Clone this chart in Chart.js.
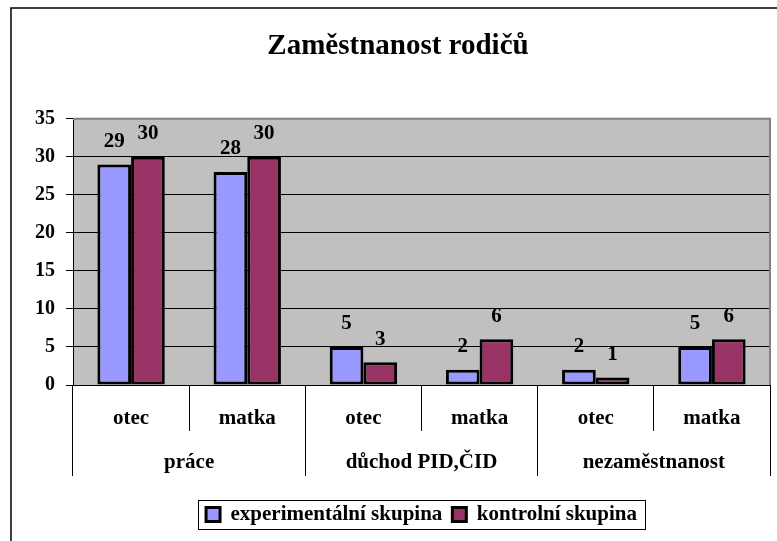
<!DOCTYPE html>
<html lang="cs">
<head>
    <meta charset="UTF-8">
    <title>Zaměstnanost rodičů</title>
    <script src="https://cdn.jsdelivr.net/npm/chart.js"></script>
    <style>
        body { margin: 0; background: #fff; }
    </style>
</head>
<body>
    <canvas id="myChart" width="777" height="541"></canvas>
    <script>
        const categories = ['otec', 'matka', 'otec', 'matka', 'otec', 'matka'];
        const groups = ['práce', 'důchod PID,ČID', 'nezaměstnanost'];
        const experimental = [29, 28, 5, 2, 2, 5];
        const control = [30, 30, 3, 6, 1, 6];
        const yMax = 35;
        const yStep = 5;

        Chart.defaults.font.family = "'Liberation Serif', 'Times New Roman', serif";
        Chart.defaults.font.weight = 'bold';
        Chart.defaults.font.size = 20;
        Chart.defaults.color = '#000';

        // grey plot area, frame lines, value labels, legend box
        const decor = {
            id: 'decor',
            beforeDraw(chart) {
                const ctx = chart.ctx;
                const a = chart.chartArea;
                ctx.save();
                ctx.fillStyle = '#fff';
                ctx.fillRect(0, 0, chart.width, chart.height);
                ctx.fillStyle = '#C0C0C0';
                ctx.fillRect(a.left, a.top, a.right - a.left, a.bottom - a.top);
                ctx.restore();
            },
            afterDatasetsDraw(chart) {
                const ctx = chart.ctx;
                const a = chart.chartArea;
                ctx.save();
                ctx.strokeStyle = '#808080';
                ctx.lineWidth = 2;
                ctx.beginPath();
                ctx.moveTo(a.left, a.top);
                ctx.lineTo(a.right, a.top);
                ctx.lineTo(a.right, a.bottom);
                ctx.stroke();

                ctx.fillStyle = '#000';
                ctx.font = "bold 21px 'Liberation Serif', serif";
                ctx.textAlign = 'center';
                ctx.textBaseline = 'middle';
                chart.data.datasets.forEach((ds, i) => {
                    chart.getDatasetMeta(i).data.forEach((bar, j) => {
                        ctx.fillText(ds.data[j], bar.x, bar.y - 23);
                    });
                });
                ctx.restore();
            },
            afterDraw(chart) {
                const ctx = chart.ctx;
                ctx.save();
                ctx.strokeStyle = '#000';
                ctx.lineWidth = 1.5;
                ctx.beginPath();
                ctx.moveTo(11, chart.height + 5);
                ctx.lineTo(11, 8);
                ctx.lineTo(chart.width + 5, 8);
                ctx.stroke();

                const boxes = chart.legend.legendHitBoxes;
                if (boxes && boxes.length) {
                    const l = Math.min(...boxes.map(b => b.left)) - 8;
                    const r = Math.max(...boxes.map(b => b.left + b.width)) + 8;
                    const t = Math.min(...boxes.map(b => b.top)) - 4;
                    const btm = Math.max(...boxes.map(b => b.top + b.height)) + 4;
                    ctx.lineWidth = 1;
                    ctx.strokeRect(Math.round(l) + 0.5, Math.round(t) + 0.5, Math.round(r - l), Math.round(btm - t));
                }
                ctx.restore();
            }
        };

        const ctx = document.getElementById('myChart').getContext('2d');
        const myChart = new Chart(ctx, {
            type: 'bar',
            data: {
                labels: categories,
                datasets: [
                    {
                        label: 'experimentální skupina',
                        data: experimental,
                        backgroundColor: '#9999FF',
                        borderColor: '#000',
                        borderWidth: 3,
                        borderSkipped: false
                    },
                    {
                        label: 'kontrolní skupina',
                        data: control,
                        backgroundColor: '#993366',
                        borderColor: '#000',
                        borderWidth: 3,
                        borderSkipped: false
                    }
                ]
            },
            options: {
                responsive: false,
                devicePixelRatio: 1,
                animation: false,
                categoryPercentage: 0.58,
                barPercentage: 1.0,
                layout: {
                    padding: { left: 26, right: 7, top: 0, bottom: 6 }
                },
                plugins: {
                    title: {
                        display: true,
                        text: 'Zaměstnanost rodičů',
                        font: { size: 29, weight: 'bold' },
                        color: '#000',
                        padding: { top: 29, bottom: 55 }
                    },
                    legend: {
                        position: 'bottom',
                        fullSize: false,
                        labels: {
                            boxWidth: 14,
                            boxHeight: 14,
                            padding: 10,
                            color: '#000',
                            font: { size: 21, weight: 'bold' }
                        }
                    },
                    tooltip: { enabled: false }
                },
                scales: {
                    y: {
                        min: 0,
                        max: yMax,
                        ticks: { stepSize: yStep, padding: 11, font: { size: 20, weight: 'bold' } },
                        grid: { color: '#000', lineWidth: 1, tickLength: 7, tickColor: '#000' },
                        border: { color: '#000', width: 1 },
                        afterFit(scale) { scale.width = 47; }
                    },
                    x: {
                        offset: true,
                        grid: { offset: true, drawOnChartArea: false, tickLength: 46, color: '#000' },
                        border: { color: '#000', width: 1 },
                        ticks: { autoSkip: false, maxRotation: 0, padding: -25, font: { size: 21, weight: 'bold' } },
                        afterFit(scale) { scale.height = 46; }
                    },
                    groups: {
                        type: 'category',
                        position: 'bottom',
                        labels: groups,
                        offset: true,
                        grid: { offset: true, drawOnChartArea: false, tickLength: 45, color: '#000' },
                        border: { display: false },
                        ticks: { autoSkip: false, maxRotation: 0, padding: -26, font: { size: 21, weight: 'bold' } },
                        afterFit(scale) { scale.height = 63; }
                    }
                }
            },
            plugins: [decor]
        });
    </script>
</body>
</html>
